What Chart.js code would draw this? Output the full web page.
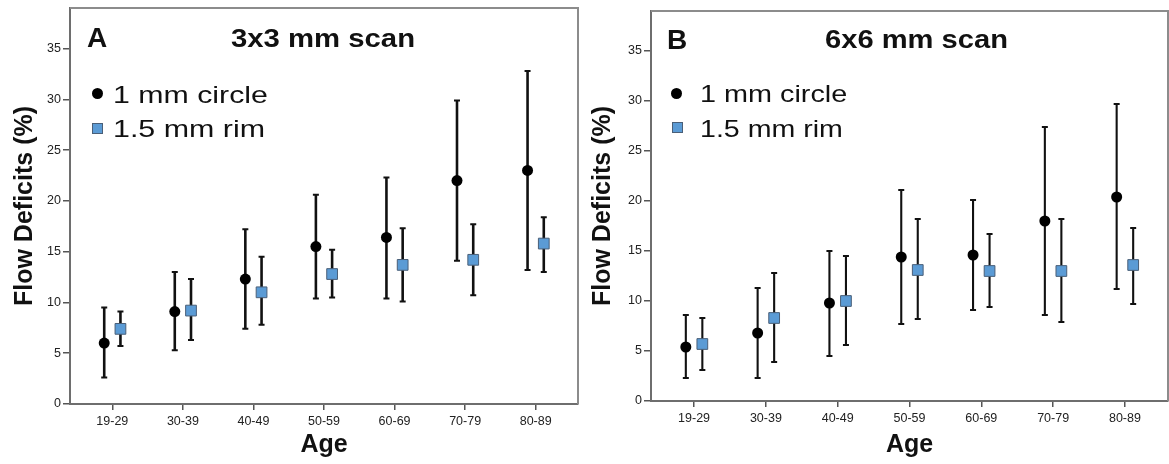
<!DOCTYPE html>
<html lang="en">
<head>
  <meta charset="UTF-8" />
  <title>Flow Deficits by Age</title>
  <script src="https://cdn.jsdelivr.net/npm/chart.js"></script>
  <style>
    * {
      margin: 0;
      padding: 0;
      box-sizing: border-box;
    }

    body {
      width: 1169px;
      height: 464px;
      background: #fff;
      font-family: 'Liberation Sans', Arial, Helvetica, sans-serif;
      color: #111;
      position: relative;
      overflow: hidden;
    }

    .panel {
      position: absolute;
      top: 0;
      height: 464px;
    }

    #panelA { left: 0; width: 583px; }
    #panelB { left: 583px; width: 586px; }

    .panel canvas {
      position: absolute;
      left: 0;
      top: 0;
    }

    .letter, .title, .legend-text {
      position: absolute;
      white-space: nowrap;
      transform-origin: left top;
    }

    .letter {
      font-size: 28px;
      line-height: 28px;
      font-weight: bold;
    }

    .title {
      font-size: 26px;
      line-height: 26px;
      font-weight: bold;
    }

    .legend-text {
      font-size: 24px;
      line-height: 24px;
    }

    .mark-circle {
      position: absolute;
      width: 11px;
      height: 11px;
      border-radius: 50%;
      background: #000;
    }

    .mark-rect {
      position: absolute;
      width: 11px;
      height: 11px;
      background: #5b9bd5;
      border: 1px solid #4a5f78;
    }
  </style>
</head>

<body>

  <div class="panel" id="panelA">
    <canvas id="chartA" width="583" height="464"></canvas>
    <div class="letter" style="left:87px; top:24px;">A</div>
    <div class="title" style="left:231px; top:25px; transform:scaleX(1.127);">3x3 mm scan</div>
    <div class="mark-circle" style="left:92px; top:88px;"></div>
    <div class="legend-text" style="left:113px; top:83px; transform:scaleX(1.263);">1 mm circle</div>
    <div class="mark-rect" style="left:92px; top:123px;"></div>
    <div class="legend-text" style="left:113px; top:117px; transform:scaleX(1.267);">1.5 mm rim</div>
  </div>

  <div class="panel" id="panelB">
    <canvas id="chartB" width="586" height="464"></canvas>
    <div class="letter" style="left:84px; top:26px;">B</div>
    <div class="title" style="left:242px; top:26px; transform:scaleX(1.12);">6x6 mm scan</div>
    <div class="mark-circle" style="left:88px; top:88px;"></div>
    <div class="legend-text" style="left:117px; top:82px; transform:scaleX(1.2);">1 mm circle</div>
    <div class="mark-rect" style="left:89px; top:122px;"></div>
    <div class="legend-text" style="left:117px; top:117px; transform:scaleX(1.19);">1.5 mm rim</div>
  </div>

  <script>
    const ageGroups = ['19-29', '30-39', '40-49', '50-59', '60-69', '70-79', '80-89'];
    const yTickValues = [0, 5, 10, 15, 20, 25, 30, 35];

    // A - 3x3 mm scan
    const circleMeanA = [6.0, 9.1, 12.3, 15.5, 16.4, 22.0, 23.0];
    const circleLowA = [2.6, 5.3, 7.4, 10.4, 10.4, 14.1, 13.2];
    const circleHighA = [9.5, 13.0, 17.2, 20.6, 22.3, 29.9, 32.8];
    const rimMeanA = [7.4, 9.2, 11.0, 12.8, 13.7, 14.2, 15.8];
    const rimLowA = [5.7, 6.3, 7.8, 10.5, 10.1, 10.7, 13.0];
    const rimHighA = [9.1, 12.3, 14.5, 15.2, 17.3, 17.7, 18.4];

    // B - 6x6 mm scan
    const circleMeanB = [5.4, 6.8, 9.8, 14.4, 14.6, 18.0, 20.4];
    const circleLowB = [2.3, 2.3, 4.5, 7.7, 9.1, 8.6, 11.2];
    const circleHighB = [8.6, 11.3, 15.0, 21.1, 20.1, 27.4, 29.7];
    const rimMeanB = [5.7, 8.3, 10.0, 13.1, 13.0, 13.0, 13.6];
    const rimLowB = [3.1, 3.9, 5.6, 8.2, 9.4, 7.9, 9.7];
    const rimHighB = [8.3, 12.8, 14.5, 18.2, 16.7, 18.2, 17.3];

    const font = "'Liberation Sans', Arial, Helvetica, sans-serif";

    // error bars + top/right frame, drawn under the points
    const errorBars = {
      id: 'errorBars',
      beforeDatasetsDraw(chart, args, opts) {
        const { ctx, chartArea: a, scales: { y } } = chart;
        ctx.save();
        ctx.strokeStyle = '#8c8c8c';
        ctx.lineWidth = 2;
        ctx.beginPath();
        ctx.moveTo(a.left, a.top);
        ctx.lineTo(a.right, a.top);
        ctx.lineTo(a.right, a.bottom);
        ctx.stroke();

        ctx.strokeStyle = '#111';
        chart.data.datasets.forEach((ds, i) => {
          chart.getDatasetMeta(i).data.forEach((pt, j) => {
            const yTop = y.getPixelForValue(ds.high[j]);
            const yBot = y.getPixelForValue(ds.low[j]);
            ctx.lineWidth = opts.width;
            ctx.beginPath();
            ctx.moveTo(pt.x, yTop);
            ctx.lineTo(pt.x, yBot);
            ctx.stroke();
            ctx.lineWidth = 2;
            ctx.beginPath();
            ctx.moveTo(pt.x - 3, yTop);
            ctx.lineTo(pt.x + 3, yTop);
            ctx.moveTo(pt.x - 3, yBot);
            ctx.lineTo(pt.x + 3, yBot);
            ctx.stroke();
          });
        });
        ctx.restore();
      }
    };

    function toPoints(values, shift) {
      return values.map((v, i) => ({ x: i + shift, y: v }));
    }

    function makePanel(id, s) {
      return new Chart(document.getElementById(id), {
        type: 'scatter',
        data: {
          datasets: [{
            data: toPoints(s.circleMean, -0.115),
            low: s.circleLow,
            high: s.circleHigh,
            pointStyle: 'circle',
            pointRadius: 5.5,
            backgroundColor: '#000',
            borderColor: '#000',
            borderWidth: 0
          }, {
            data: toPoints(s.rimMean, 0.115),
            low: s.rimLow,
            high: s.rimHigh,
            pointStyle: 'rect',
            pointRadius: 7.6,
            backgroundColor: '#5b9bd5',
            borderColor: '#4a5f78',
            borderWidth: 1
          }]
        },
        options: {
          responsive: false,
          animation: false,
          events: [],
          layout: {
            autoPadding: false,
            padding: { top: s.padTop, right: s.padRight, left: 0, bottom: 0 }
          },
          plugins: {
            legend: { display: false },
            tooltip: { enabled: false },
            errorBars: { width: s.barWidth }
          },
          scales: {
            x: {
              type: 'linear',
              min: -0.6,
              max: 6.6,
              afterBuildTicks: sc => { sc.ticks = ageGroups.map((g, i) => ({ value: i })); },
              afterFit: sc => { sc.height = s.xAxisH; sc.paddingLeft = 0; sc.paddingRight = 0; },
              grid: { drawOnChartArea: false, tickLength: 6, color: '#555', lineWidth: 1.5 },
              border: { display: true, color: '#6e6e6e', width: 2 },
              ticks: {
                callback: v => ageGroups[v],
                maxRotation: 0,
                padding: 4,
                color: '#222',
                font: { family: font, size: 12.5 }
              },
              title: {
                display: true,
                text: 'Age',
                color: '#111',
                padding: { top: 0, bottom: 4 },
                font: { family: font, size: 25, weight: 'bold' }
              }
            },
            y: {
              min: 0,
              max: 39,
              afterBuildTicks: sc => { sc.ticks = yTickValues.map(v => ({ value: v })); },
              afterFit: sc => { sc.width = s.yAxisW; sc.paddingTop = 0; sc.paddingBottom = 0; },
              grid: { drawOnChartArea: false, tickLength: 7, color: '#555', lineWidth: 1.5 },
              border: { display: true, color: '#6e6e6e', width: 2 },
              ticks: {
                padding: 2,
                color: '#222',
                font: { family: font, size: 12.5 }
              },
              title: {
                display: true,
                text: 'Flow Deficits (%)',
                color: '#111',
                padding: { top: s.yTitlePad, bottom: 0 },
                font: { family: font, size: 25, weight: 'bold' }
              }
            }
          }
        },
        plugins: [errorBars]
      });
    }

    makePanel('chartA', {
      circleMean: circleMeanA, circleLow: circleLowA, circleHigh: circleHighA,
      rimMean: rimMeanA, rimLow: rimLowA, rimHigh: rimHighA,
      padTop: 8, padRight: 5, xAxisH: 60, yAxisW: 70, yTitlePad: 10, barWidth: 2.6
    });

    makePanel('chartB', {
      circleMean: circleMeanB, circleLow: circleLowB, circleHigh: circleHighB,
      rimMean: rimMeanB, rimLow: rimLowB, rimHigh: rimHighB,
      padTop: 11, padRight: 1, xAxisH: 63, yAxisW: 68, yTitlePad: 5, barWidth: 2.1
    });
  </script>

</body>
</html>
